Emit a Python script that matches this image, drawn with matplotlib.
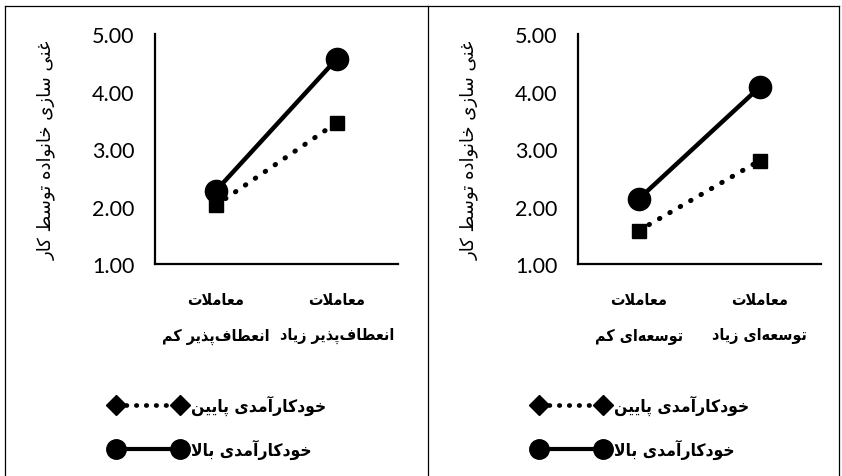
import numpy as np
import matplotlib
matplotlib.use("Agg")
import matplotlib.pyplot as plt
from matplotlib.lines import Line2D

# ---------------- data ----------------
left_cats = ["معاملات\nانعطاف‌پذیر کم", "معاملات\nانعطاف‌پذیر زیاد"]
right_cats = ["معاملات\nتوسعه‌ای کم", "معاملات\nتوسعه‌ای زیاد"]
left_low = [2.02, 3.46]
left_high = [2.27, 4.57]
right_low = [1.58, 2.80]
right_high = [2.13, 4.08]
y_ticks = [1, 2, 3, 4, 5]
y_label = "غنی سازی خانواده توسط کار"
series_names = ["خودکارآمدی پایین", "خودکارآمدی بالا"]

# ---------------- minimal Persian shaping (no reshaper available) ----------------
FORMS = {
    'ا': (0xFE8D, 0xFE8E), 'آ': (0xFE81, 0xFE82),
    'ب': (0xFE8F, 0xFE90, 0xFE91, 0xFE92), 'پ': (0xFB56, 0xFB57, 0xFB58, 0xFB59),
    'ت': (0xFE95, 0xFE96, 0xFE97, 0xFE98), 'ث': (0xFE99, 0xFE9A, 0xFE9B, 0xFE9C),
    'ج': (0xFE9D, 0xFE9E, 0xFE9F, 0xFEA0), 'چ': (0xFB7A, 0xFB7B, 0xFB7C, 0xFB7D),
    'ح': (0xFEA1, 0xFEA2, 0xFEA3, 0xFEA4), 'خ': (0xFEA5, 0xFEA6, 0xFEA7, 0xFEA8),
    'د': (0xFEA9, 0xFEAA), 'ذ': (0xFEAB, 0xFEAC), 'ر': (0xFEAD, 0xFEAE),
    'ز': (0xFEAF, 0xFEB0), 'ژ': (0xFB8A, 0xFB8B),
    'س': (0xFEB1, 0xFEB2, 0xFEB3, 0xFEB4), 'ش': (0xFEB5, 0xFEB6, 0xFEB7, 0xFEB8),
    'ص': (0xFEB9, 0xFEBA, 0xFEBB, 0xFEBC), 'ض': (0xFEBD, 0xFEBE, 0xFEBF, 0xFEC0),
    'ط': (0xFEC1, 0xFEC2, 0xFEC3, 0xFEC4), 'ظ': (0xFEC5, 0xFEC6, 0xFEC7, 0xFEC8),
    'ع': (0xFEC9, 0xFECA, 0xFECB, 0xFECC), 'غ': (0xFECD, 0xFECE, 0xFECF, 0xFED0),
    'ف': (0xFED1, 0xFED2, 0xFED3, 0xFED4), 'ق': (0xFED5, 0xFED6, 0xFED7, 0xFED8),
    'ک': (0xFB8E, 0xFB8F, 0xFB90, 0xFB91), 'گ': (0xFB92, 0xFB93, 0xFB94, 0xFB95),
    'ل': (0xFEDD, 0xFEDE, 0xFEDF, 0xFEE0), 'م': (0xFEE1, 0xFEE2, 0xFEE3, 0xFEE4),
    'ن': (0xFEE5, 0xFEE6, 0xFEE7, 0xFEE8), 'ه': (0xFEE9, 0xFEEA, 0xFEEB, 0xFEEC),
    'و': (0xFEED, 0xFEEE), 'ی': (0xFBFC, 0xFBFD, 0xFBFE, 0xFBFF),
}
LAM_ALEF = {'ا': (0xFEFB, 0xFEFC), 'آ': (0xFEF5, 0xFEF6)}


def dual(c):
    return c in FORMS and len(FORMS[c]) == 4


def shape_line(s):
    out = []
    i = 0
    while i < len(s):
        c = s[i]
        prev = s[i - 1] if i > 0 else ''
        jp = dual(prev)
        if c == 'ل' and i + 1 < len(s) and s[i + 1] in LAM_ALEF:
            out.append(chr(LAM_ALEF[s[i + 1]][1 if jp else 0]))
            i += 2
            continue
        if c not in FORMS:
            if c != '\u200c':
                out.append(c)
            i += 1
            continue
        nxt = s[i + 1] if i + 1 < len(s) else ''
        jn = dual(c) and nxt in FORMS
        f = FORMS[c]
        if jp and jn:
            g = f[3]
        elif jp:
            g = f[1]
        elif jn:
            g = f[2]
        else:
            g = f[0]
        out.append(chr(g))
        i += 1
    return ''.join(reversed(out))


def fa(s):
    return '\n'.join(shape_line(line) for line in s.split('\n'))


# ---------------- figure ----------------
fig = plt.figure(figsize=(8.42, 4.77), dpi=100)
fig.patch.set_facecolor('white')

arabic_font = ['DejaVu Sans']
num_font = ['Lato', 'DejaVu Sans']

panels = [
    (0.1841, left_cats, left_low, left_high),
    (0.6865, right_cats, right_low, right_high),
]

for x0, cats, low, high in panels:
    ax = fig.add_axes([x0, 0.4444, 0.2880, 0.4822])
    xs = np.arange(len(cats)) + 0.5
    ax.plot(xs, low, color='black', lw=3.6, linestyle=(0, (0.1, 2.3)),
            dash_capstyle='round', marker='s', markersize=10, zorder=3)
    ax.plot(xs, high, color='black', lw=3.2, linestyle='-',
            marker='o', markersize=16, zorder=4)
    ax.set_xlim(0, 2)
    ax.set_ylim(1, 5)
    ax.set_yticks(y_ticks)
    ax.set_yticklabels([f"{v:.2f}" for v in y_ticks], family=num_font, fontsize=15.5)
    ax.set_xticks(xs)
    ax.set_xticklabels([fa(c) for c in cats], family=arabic_font, fontsize=11.5,
                       fontweight='bold', fontstretch='condensed', linespacing=2.7)
    ax.tick_params(axis='y', length=0, pad=15)
    ax.tick_params(axis='x', length=0, pad=20)
    for side in ['top', 'right']:
        ax.spines[side].set_visible(False)
    for side in ['left', 'bottom']:
        ax.spines[side].set_linewidth(1.6)
        ax.spines[side].set_color('black')
    ax.set_ylabel(fa(y_label), family=arabic_font, fontsize=13)
    ax.yaxis.set_label_coords(-0.41, 0.5)

    handles = [
        Line2D([], [], color='black', lw=3.4, linestyle=(0, (0.1, 2.0)),
               dash_capstyle='round', marker='D', markersize=10),
        Line2D([], [], color='black', lw=3.0, linestyle='-',
               marker='o', markersize=14),
    ]
    ax.legend(handles, [fa(n) for n in series_names], loc='upper left',
              bbox_to_anchor=(x0 - 0.063, 0.188), bbox_transform=fig.transFigure,
              frameon=False, numpoints=2, handlelength=4.3, handletextpad=0.35,
              labelspacing=1.35, borderpad=0,
              prop={'family': arabic_font, 'size': 12.5, 'weight': 'bold',
                    'stretch': 'condensed'})

# frame lines around the two panels
for xa, xb, ya, yb in [(0.006, 0.996, 0.985, 0.985), (0.006, 0.006, 0.0, 0.985),
                       (0.508, 0.508, 0.0, 0.985), (0.996, 0.996, 0.0, 0.985)]:
    fig.add_artist(Line2D([xa, xb], [ya, yb], transform=fig.transFigure,
                          color='black', lw=0.9))

fig.savefig('out.png', dpi=100, facecolor='white')
